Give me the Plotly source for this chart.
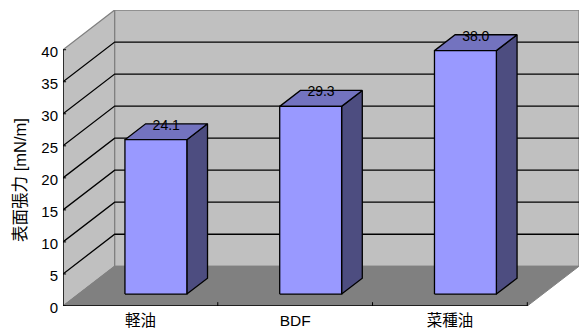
import plotly.graph_objects as go

categories = ["軽油", "BDF", "菜種油"]
values = [24.1, 29.3, 38.0]
value_labels = ["24.1", "29.3", "38.0"]
y_ticks = [0, 5, 10, 15, 20, 25, 30, 35, 40]
y_title = "表面張力 [mN/m]"

# oblique projection of the 3-D box: one unit of depth moves a point by this much
DX = 0.334
DY = 6.2
Y_MAX = 40
GAP = 0.3          # half-category share left beside each bar
D0, D1 = 0.3, 0.7  # depth span of the bars

FRONT = "#9999FF"
TOP = "#7373BF"
SIDE = "#4D4D80"
WALL = "#C0C0C0"
FLOOR = "#808080"
EDGE = "#808080"
FONT = "Liberation Sans, Noto Sans CJK JP, sans-serif"
BAR_LINE = 1.3


def proj(c, v, d):
    return c + d * DX, v + d * DY


def poly(points, fill, line, width=1):
    pts = [proj(*p) for p in points]
    pts.append(pts[0])
    return go.Scatter(
        x=[p[0] for p in pts], y=[p[1] for p in pts], mode="lines", fill="toself",
        fillcolor=fill, line=dict(color=line, width=width), hoverinfo="skip",
        showlegend=False, cliponaxis=False,
    )


def seg(points, color="#000000", width=1):
    pts = [proj(*p) for p in points]
    return go.Scatter(
        x=[p[0] for p in pts], y=[p[1] for p in pts], mode="lines",
        line=dict(color=color, width=width), hoverinfo="skip",
        showlegend=False, cliponaxis=False,
    )


n = len(categories)
fig = go.Figure()

# walls and floor
fig.add_trace(poly([(0, 0, 0), (0, 0, 1), (0, Y_MAX, 1), (0, Y_MAX, 0)], WALL, EDGE, 1.3))
fig.add_trace(poly([(0, 0, 1), (n, 0, 1), (n, Y_MAX, 1), (0, Y_MAX, 1)], WALL, EDGE, 1.3))
fig.add_trace(poly([(0, 0, 0), (n, 0, 0), (n, 0, 1), (0, 0, 1)], FLOOR, FLOOR))

# gridlines
for t in y_ticks[1:-1]:
    fig.add_trace(seg([(0, t, 0), (0, t, 1), (n, t, 1)], width=1.3))

# bars
for i, v in enumerate(values):
    a, b = i + GAP, i + 1 - GAP
    fig.add_trace(poly([(b, 0, D0), (b, 0, D1), (b, v, D1), (b, v, D0)], SIDE, "#000000", BAR_LINE))
    fig.add_trace(poly([(a, v, D0), (b, v, D0), (b, v, D1), (a, v, D1)], TOP, "#000000", BAR_LINE))
    fig.add_trace(poly([(a, 0, D0), (b, 0, D0), (b, v, D0), (a, v, D0)], FRONT, "#000000", BAR_LINE))

# front axes and their short inward ticks
fig.add_trace(seg([(0, Y_MAX, 0), (0, 0, 0), (n, 0, 0)], width=1.4))
for c in range(1, n + 1):
    fig.add_trace(seg([(c, 0, 0), (c, 0.6, 0)]))
for t in y_ticks:
    fig.add_trace(seg([(0, t, 0), (0.02, t, 0)]))

# data labels
lx, ly = [], []
for i, v in enumerate(values):
    px, py = proj(i + 0.5, v, 0.5)
    lx.append(px)
    ly.append(py + 0.85)
fig.add_trace(go.Scatter(
    x=lx, y=ly, mode="text", text=value_labels, textposition="middle center",
    textfont=dict(family=FONT, size=14, color="#000000"), hoverinfo="skip",
    showlegend=False, cliponaxis=False,
))

fig.update_layout(
    width=580, height=329,
    margin=dict(l=63, r=1, t=10, b=23.3),
    paper_bgcolor="#FFFFFF", plot_bgcolor="#FFFFFF",
    xaxis=dict(
        range=[0, n + DX], tickmode="array", tickvals=[i + 0.5 for i in range(n)],
        ticktext=categories, showgrid=False, zeroline=False, showline=False, ticks="",
        tickfont=dict(family=FONT, size=15.5, color="#000000"), ticklabelstandoff=3,
    ),
    yaxis=dict(
        range=[0, Y_MAX + DY], tickmode="array", tickvals=y_ticks, showgrid=False,
        zeroline=False, showline=False, ticks="", ticklabelstandoff=4, ticklabelshift=2,
        tickfont=dict(family=FONT, size=15, color="#000000"),
    ),
    annotations=[dict(
        text=y_title, textangle=-90, xref="paper", yref="y", x=-0.083, y=19.7,
        xanchor="center", yanchor="middle", showarrow=False,
        font=dict(family=FONT, size=16.5, color="#000000"),
    )],
)

fig.write_html("out.html", config={"displayModeBar": False},
               post_script="document.body.style.margin='0';")
